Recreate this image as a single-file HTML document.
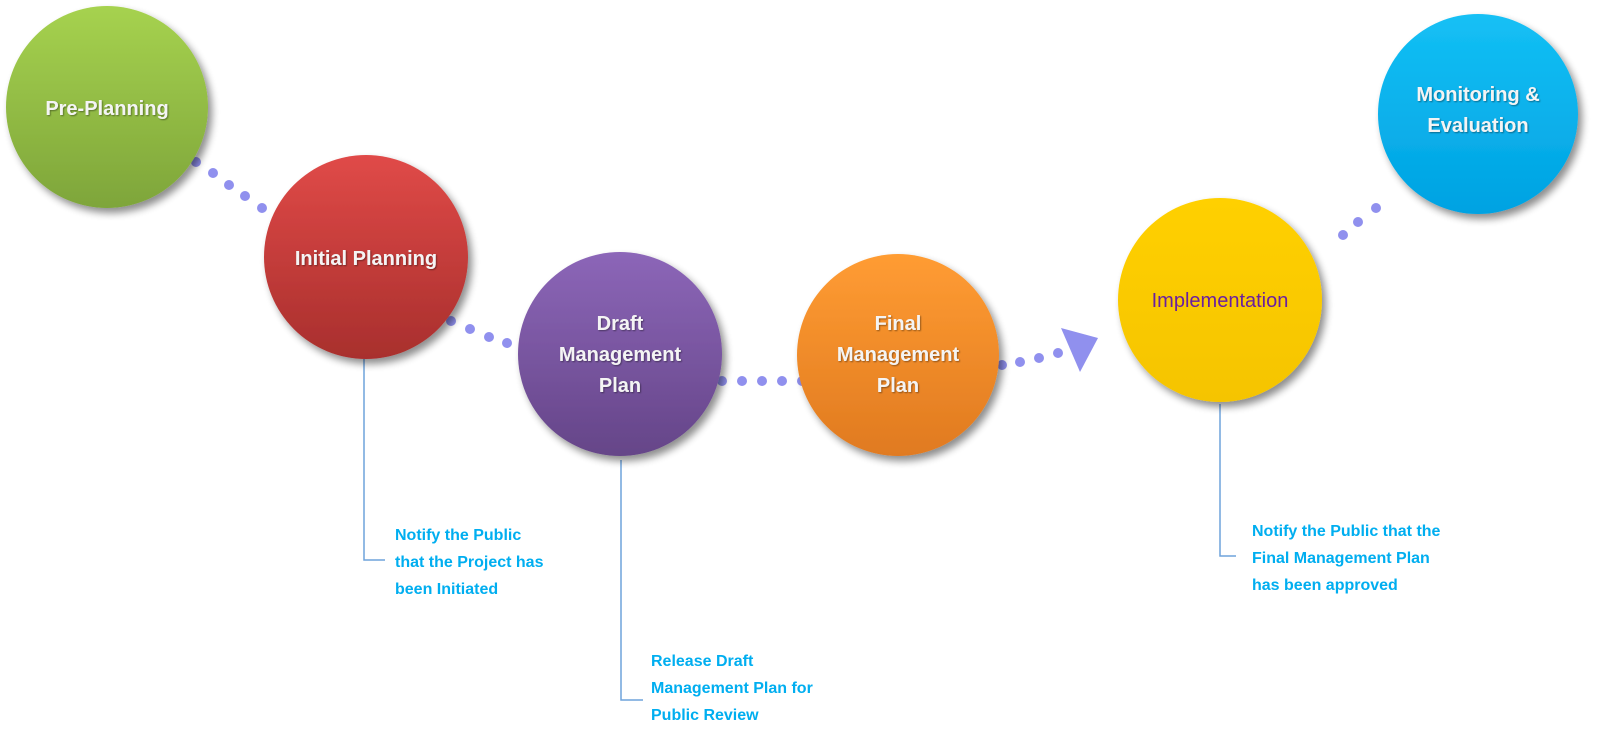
<!DOCTYPE html>
<html><head><meta charset="utf-8"><style>
html,body{margin:0;padding:0;background:#fff;}
svg{display:block}
text{font-family:"Liberation Sans",Arial,sans-serif;}
</style></head><body>
<svg width="1600" height="756" viewBox="0 0 1600 756" xmlns="http://www.w3.org/2000/svg">
<defs>
<filter id="sh" x="-20%" y="-20%" width="150%" height="150%">
<feGaussianBlur in="SourceAlpha" stdDeviation="4"/><feOffset dx="4" dy="5"/>
<feComponentTransfer><feFuncA type="linear" slope="0.45"/></feComponentTransfer>
<feMerge><feMergeNode/><feMergeNode in="SourceGraphic"/></feMerge></filter>
<filter id="ts"><feDropShadow dx="1" dy="1" stdDeviation="0.8" flood-opacity="0.4"/></filter>
<linearGradient id="g1" x1="0" y1="0" x2="0" y2="1"><stop offset="0" stop-color="#a6d24f"/><stop offset="1" stop-color="#7ea53a"/></linearGradient>
<linearGradient id="g2" x1="0" y1="0" x2="0" y2="1"><stop offset="0" stop-color="#e04a48"/><stop offset="1" stop-color="#a82f2d"/></linearGradient>
<linearGradient id="g3" x1="0" y1="0" x2="0" y2="1"><stop offset="0" stop-color="#8c66b8"/><stop offset="1" stop-color="#654588"/></linearGradient>
<linearGradient id="g4" x1="0" y1="0" x2="0" y2="1"><stop offset="0" stop-color="#ff9c33"/><stop offset="1" stop-color="#e07a20"/></linearGradient>
<linearGradient id="g5" x1="0" y1="0" x2="0" y2="1"><stop offset="0" stop-color="#ffd000"/><stop offset="1" stop-color="#f5c400"/></linearGradient>
<linearGradient id="g6" x1="0" y1="0" x2="0" y2="1"><stop offset="0" stop-color="#14c0f5"/><stop offset="1" stop-color="#00a2e2"/></linearGradient>
</defs>
<g fill="#9090ee">
<circle cx="196" cy="162" r="5"/><circle cx="213" cy="173" r="5"/><circle cx="229" cy="185" r="5"/><circle cx="245" cy="196" r="5"/><circle cx="262" cy="208" r="5"/>
<circle cx="451" cy="321" r="5"/><circle cx="470" cy="329" r="5"/><circle cx="489" cy="337" r="5"/><circle cx="507" cy="343" r="5"/>
<circle cx="722" cy="381" r="5"/><circle cx="742" cy="381" r="5"/><circle cx="762" cy="381" r="5"/><circle cx="782" cy="381" r="5"/><circle cx="802" cy="381" r="5"/>
<circle cx="1002" cy="365" r="5"/><circle cx="1020" cy="362" r="5"/><circle cx="1039" cy="358" r="5"/><circle cx="1058" cy="353" r="5"/>
<polygon points="1061,328 1098,338 1080,372"/>
<circle cx="1343" cy="235" r="5"/><circle cx="1358" cy="222" r="5"/><circle cx="1376" cy="208" r="5"/>
</g>
<g stroke="#6fa3dc" stroke-width="1.5" fill="none">
<polyline points="364,359 364,560 385,560"/>
<polyline points="621,460 621,700 643,700"/>
<polyline points="1220,404 1220,556 1236,556"/>
</g>
<g filter="url(#sh)">
<circle cx="107" cy="107" r="101" fill="url(#g1)"/>
<circle cx="366" cy="257" r="102" fill="url(#g2)"/>
<circle cx="620" cy="354" r="102" fill="url(#g3)"/>
<circle cx="898" cy="355" r="101" fill="url(#g4)"/>
<circle cx="1220" cy="300" r="102" fill="url(#g5)"/>
<circle cx="1478" cy="114" r="100" fill="url(#g6)"/>
</g>
<g fill="#f4f4f4" font-weight="bold" font-size="20" text-anchor="middle" filter="url(#ts)">
<text x="107" y="115">Pre-Planning</text>
<text x="366" y="265">Initial Planning</text>
<text x="620" y="330">Draft</text><text x="620" y="361">Management</text><text x="620" y="392">Plan</text>
<text x="898" y="330">Final</text><text x="898" y="361">Management</text><text x="898" y="392">Plan</text>
<text x="1478" y="101">Monitoring &amp;</text><text x="1478" y="132">Evaluation</text>
</g>
<text x="1220" y="307" font-size="20" fill="#6a1fa0" text-anchor="middle">Implementation</text>
<g fill="#00aef0" font-weight="bold" font-size="16">
<text x="395" y="540">Notify the Public</text><text x="395" y="567">that the Project has</text><text x="395" y="594">been Initiated</text>
<text x="651" y="666">Release Draft</text><text x="651" y="693">Management Plan for</text><text x="651" y="720">Public Review</text>
<text x="1252" y="536">Notify the Public that the</text><text x="1252" y="563">Final Management Plan</text><text x="1252" y="590">has been approved</text>
</g>
</svg>
</body></html>
